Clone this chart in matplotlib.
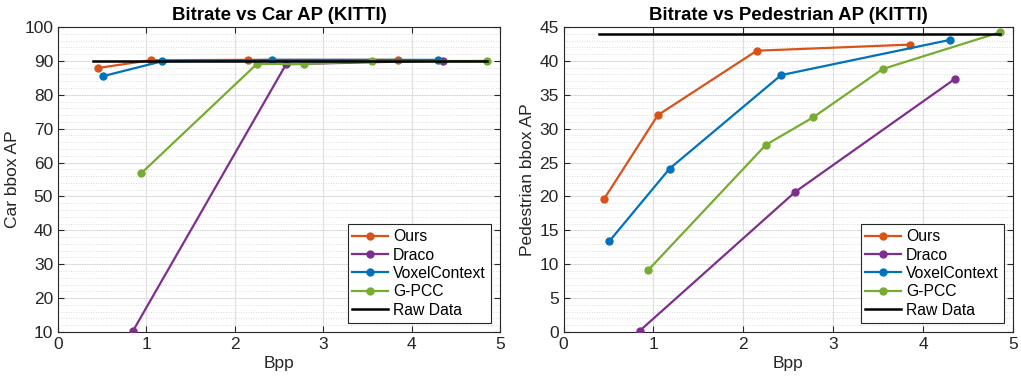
import matplotlib
matplotlib.use("Agg")
import matplotlib.pyplot as plt
from matplotlib.ticker import MultipleLocator

plt.rcParams['font.family'] = ['Liberation Sans', 'DejaVu Sans']

# ---- data ----
ours_x = [0.45, 1.05, 2.15, 3.85]
ours_car = [87.9, 90.2, 90.3, 90.3]
ours_ped = [19.6, 32.0, 41.5, 42.4]

draco_x = [0.85, 2.58, 4.36]
draco_car = [10.4, 89.0, 90.1]
draco_ped = [0.2, 20.7, 37.4]

voxel_x = [0.51, 1.18, 2.42, 4.30]
voxel_car = [85.5, 89.9, 90.3, 90.3]
voxel_ped = [13.4, 24.1, 37.9, 43.1]

gpcc_x = [0.94, 2.25, 2.78, 3.55, 4.85]
gpcc_car = [56.8, 89.1, 89.1, 89.9, 90.0]
gpcc_ped = [9.1, 27.6, 31.7, 38.8, 44.2]

raw_x = [0.40, 4.85]
raw_car = [90.1, 90.1]
raw_ped = [44.0, 44.0]

labels = ['Ours', 'Draco', 'VoxelContext', 'G-PCC', 'Raw Data']
colors = ['#D95319', '#7E2F8E', '#0072BD', '#77AC30', '#000000']

fig = plt.figure(figsize=(10.21, 3.79), dpi=100)
ax1 = fig.add_axes([58/1021, 1-332/379, 442/1021, 305/379])
ax2 = fig.add_axes([563.5/1021, 1-332/379, 449.5/1021, 305/379])

dark = '#262626'

def setup(ax, title, ylabel, ylim, ymajor, yminor):
    ax.set_xlim(0, 5)
    ax.set_ylim(*ylim)
    ax.xaxis.set_major_locator(MultipleLocator(1))
    ax.yaxis.set_major_locator(MultipleLocator(ymajor))
    ax.yaxis.set_minor_locator(MultipleLocator(yminor))
    ax.grid(True, which='major', color='#DFDFDF', linewidth=0.8, zorder=0)
    ax.grid(True, which='minor', axis='y', color='#D0D0D0', linestyle=(0, (1, 2)), linewidth=0.6, zorder=0)
    ax.tick_params(which='both', direction='in', top=True, right=True, labelsize=12.5, colors=dark, length=4)
    ax.tick_params(which='minor', length=0)
    for s in ax.spines.values():
        s.set_color(dark)
        s.set_linewidth(0.8)
    ax.set_title(title, fontsize=13.4, fontweight='bold', pad=5)
    ax.set_xlabel('Bpp', fontsize=12.5, color=dark, labelpad=3)
    ax.set_ylabel(ylabel, fontsize=12.5, color=dark, labelpad=3)
    ax.set_axisbelow(True)

series_car = [(ours_x, ours_car), (draco_x, draco_car), (voxel_x, voxel_car), (gpcc_x, gpcc_car)]
series_ped = [(ours_x, ours_ped), (draco_x, draco_ped), (voxel_x, voxel_ped), (gpcc_x, gpcc_ped)]

for ax, series, raw_y in [(ax1, series_car, raw_car), (ax2, series_ped, raw_ped)]:
    for (x, y), c, lab in zip(series, colors[:4], labels[:4]):
        ax.plot(x, y, '-o', color=c, linewidth=1.6, markersize=5, label=lab, zorder=3)
    ax.plot(raw_x, raw_y, '-', color='black', linewidth=1.8, label='Raw Data', zorder=4)
    leg = ax.legend(loc='lower right', fontsize=11.3, frameon=True, fancybox=False,
                    edgecolor=dark, framealpha=1, borderpad=0.3, labelspacing=0.22,
                    handlelength=2.3, handletextpad=0.3, borderaxespad=0.6)
    leg.get_frame().set_linewidth(0.8)

setup(ax1, 'Bitrate vs Car AP (KITTI)', 'Car bbox AP', (10, 100), 10, 2)
setup(ax2, 'Bitrate vs Pedestrian AP (KITTI)', 'Pedestrian bbox AP', (0, 45), 5, 1)

fig.savefig('out.png', dpi=100)
